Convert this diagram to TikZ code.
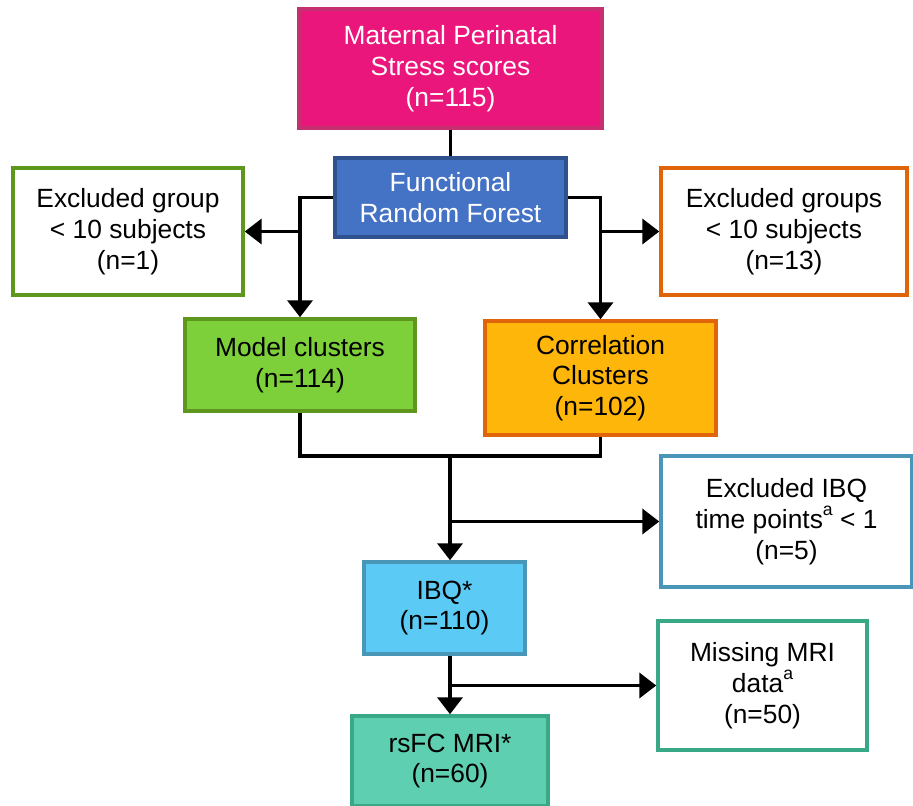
\documentclass[tikz,border=0pt]{standalone}
\usepackage{fontspec}
\setmainfont{Liberation Sans}
\definecolor{fcpink}{RGB}{234,22,123}
\definecolor{fcpinkdk}{RGB}{196,48,112}
\definecolor{fcblue}{RGB}{68,114,196}
\definecolor{fcbluedk}{RGB}{47,82,143}
\definecolor{fcgreen}{RGB}{126,208,58}
\definecolor{fcgreendk}{RGB}{94,150,30}
\definecolor{fcorange}{RGB}{255,182,10}
\definecolor{fcorangedk}{RGB}{224,100,10}
\definecolor{fcsky}{RGB}{91,203,245}
\definecolor{fcskydk}{RGB}{74,150,185}
\definecolor{fcteal}{RGB}{94,207,176}
\definecolor{fctealdk}{RGB}{56,168,134}
\usetikzlibrary{arrows.meta,positioning,calc}
\newcommand{\fcsup}[1]{\raisebox{0.5em}{\fontsize{10}{10}\selectfont #1}}

\begin{document}
\begin{tikzpicture}[x=0.02cm,y=-0.02cm,
  fcbox/.style={draw,line width=2pt,align=center,inner sep=2pt,
    font=\fontsize{15}{17.5}\selectfont},
  fcarr/.style={-{Triangle[length=0.34cm,width=0.5cm]},line width=2.2pt},
  fcline/.style={line width=2.2pt}
]
  \useasboundingbox (0,0) rectangle (913,805);
  % main column
  \node[fcbox,fill=fcpink,draw=fcpinkdk,text=white,minimum width=6.06cm,minimum height=2.38cm]
    (stress) at (450.5,68.5) {Maternal Perinatal\\Stress scores\\(n=115)};
  \node[fcbox,fill=fcblue,draw=fcbluedk,text=white,minimum width=4.62cm,minimum height=1.58cm]
    (frf) at (450.5,197.5) {Functional\\Random Forest};
  % excluded groups
  \node[fcbox,fill=white,draw=fcgreendk,minimum width=4.6cm,minimum height=2.54cm]
    (exclgrp) at (128,231.5) {Excluded group\\< 10 subjects\\(n=1)};
  \node[fcbox,fill=white,draw=fcorangedk,minimum width=4.92cm,minimum height=2.54cm]
    (exclgrps) at (784,231.5) {Excluded groups\\< 10 subjects\\(n=13)};
  % clusters
  \node[fcbox,fill=fcgreen,draw=fcgreendk,minimum width=4.6cm,minimum height=1.84cm]
    (model) at (300,365) {Model clusters\\(n=114)};
  \node[fcbox,fill=fcorange,draw=fcorangedk,minimum width=4.62cm,minimum height=2.28cm]
    (corr) at (600.5,378) {Correlation\\Clusters\\(n=102)};
  % IBQ and MRI
  \node[fcbox,fill=white,draw=fcskydk,minimum width=5.02cm,minimum height=2.62cm]
    (exclibq) at (786.5,521.5) {Excluded IBQ\\time points\fcsup{a} < 1\\(n=5)};
  \node[fcbox,fill=fcsky,draw=fcskydk,minimum width=3.22cm,minimum height=1.84cm]
    (ibq) at (444.5,608) {IBQ*\\(n=110)};
  \node[fcbox,fill=white,draw=fctealdk,minimum width=4.18cm,minimum height=2.58cm]
    (missing) at (762.5,685.5) {Missing MRI\\data\fcsup{a}\\(n=50)};
  \node[fcbox,fill=fcteal,draw=fctealdk,minimum width=3.92cm,minimum height=1.8cm]
    (rsfc) at (450,761) {rsFC MRI*\\(n=60)};
  \coordinate (merge) at (450,456);
  % connectors
  \draw[fcline] (stress.south) -- (frf.north);
  \draw[fcarr] (frf.west) -| (model.north);
  \draw[fcarr] (model.north |- exclgrp.east) -- (exclgrp.east);
  \draw[fcarr] (frf.east) -| (corr.north);
  \draw[fcarr] (corr.north |- exclgrps.west) -- (exclgrps.west);
  \draw[fcline] (model.south) |- (merge) -| (corr.south);
  \draw[fcarr] (merge) -- (merge |- ibq.north);
  \draw[fcarr] (merge |- exclibq.west) -- (exclibq.west);
  \draw[fcarr] (rsfc.north |- ibq.south) -- (rsfc.north);
  \draw[fcarr] (rsfc.north |- missing.west) -- (missing.west);
\end{tikzpicture}
\end{document}
